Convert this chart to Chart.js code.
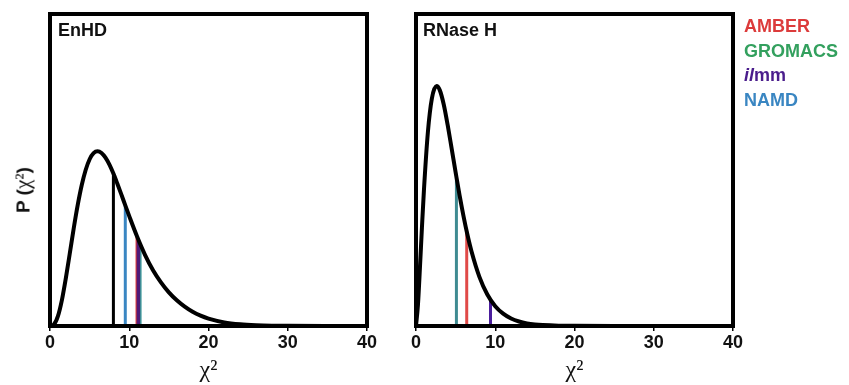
<!DOCTYPE html>
<html>
<head>
<meta charset="utf-8">
<script src="https://cdn.jsdelivr.net/npm/chart.js@4.4.1/dist/chart.umd.min.js"></script>
<style>
  body { margin: 0; background: #fff; width: 849px; height: 385px; position: relative; overflow: hidden; font-family: "Liberation Sans", Arial, sans-serif; }
  #enhdWrap { position: absolute; left: 0; top: 0; width: 380px; height: 385px; }
  #rnaseWrap { position: absolute; left: 380px; top: 0; width: 469px; height: 385px; }
  .panelLabel { position: absolute; font-weight: bold; font-size: 18px; color: #111; }
  .legend { position: absolute; left: 744px; top: 14px; font-weight: bold; font-size: 18px; line-height: 24.5px; }
  .ylab { position: absolute; left: 23px; top: 190px; transform: translate(-50%, -50%) rotate(-90deg); font-weight: bold; font-size: 19px; white-space: nowrap; color: #111; }
  .chi { font-family: "Liberation Serif", "Times New Roman", serif; font-weight: normal; font-size: 21px; }
</style>
</head>
<body>
<div id="enhdWrap"><canvas id="enhdChart"></canvas></div>
<div id="rnaseWrap"><canvas id="rnaseChart"></canvas></div>
<div class="panelLabel" style="left:58px; top:20px;">EnHD</div>
<div class="panelLabel" style="left:423px; top:20px;">RNase H</div>
<div class="ylab">P (<span class="chi">χ²</span>)</div>
<div class="legend">
  <div style="color:#dc3b3b;">AMBER</div>
  <div style="color:#33a05e;">GROMACS</div>
  <div style="color:#4a1d8c;"><i>il</i>mm</div>
  <div style="color:#3a86c2;">NAMD</div>
</div>
<script>
// Curve values
const enhdX = [0, 0.5, 1, 1.5, 2, 2.5, 3, 3.5, 4, 4.5, 5, 5.5, 6, 6.5, 7, 7.5, 8, 8.5, 9, 9.5, 10, 11, 12, 13, 14, 15, 16, 17, 18, 19, 20, 22, 24, 26, 28, 30, 35, 40];
const enhdP = [0, 0.001, 0.0063, 0.0166, 0.0307, 0.0466, 0.0628, 0.0776, 0.0902, 0.1000, 0.1069, 0.1108, 0.1120, 0.1109, 0.1079, 0.1034, 0.0977, 0.0912, 0.0844, 0.0773, 0.0704, 0.0572, 0.0455, 0.0358, 0.0280, 0.0216, 0.0165, 0.0124, 0.0091, 0.0066, 0.0047, 0.0023, 0.0011, 0.0005, 0.0002, 0.0001, 0, 0];

const rnaseX = [0, 0.25, 0.5, 0.75, 1, 1.5, 2, 2.6, 3, 3.5, 4, 4.5, 5, 5.5, 6, 6.5, 7, 8, 9, 10, 11, 12, 13, 14, 15, 16, 18, 20, 25, 30, 40];
const rnaseP = [0, 0.0139, 0.0377, 0.0632, 0.0870, 0.1243, 0.1458, 0.1538, 0.1512, 0.1420, 0.1287, 0.1137, 0.0985, 0.0837, 0.0703, 0.0583, 0.0479, 0.0315, 0.0202, 0.0127, 0.0079, 0.0048, 0.0029, 0.0017, 0.0010, 0.0006, 0.0002, 0.0001, 0, 0, 0];

// Vertical marker lines (chi^2 of each force field)
const enhdLineX = [8.0, 9.5, 10.95, 11.4, 11.15];
const enhdLineTop = [0.0977, 0.0773, 0.0573, 0.0518, 0.0547];
const enhdLineColor = ['#000000', '#3a86c2', '#dc3b3b', '#3e9a9a', '#4f1a78'];
const enhdLineWidth = [3, 3, 2.5, 2.5, 3.5];

const rnaseLineX = [5.1, 6.4, 9.4];
const rnaseLineTop = [0.0954, 0.0606, 0.0168];
const rnaseLineColor = ['#3f8b92', '#e04a48', '#4a1d9c'];
const rnaseLineWidth = [3, 3, 3];

const xTicks = [0, 10, 20, 30, 40];

// draws the closed frame around the plot area
const boxPlugin = {
    id: 'box',
    afterDatasetsDraw(chart) {
        const a = chart.chartArea;
        const ctx = chart.ctx;
        ctx.save();
        ctx.strokeStyle = '#000';
        ctx.lineWidth = 4;
        ctx.strokeRect(a.left, a.top, a.right - a.left, a.bottom - a.top);
        ctx.restore();
    }
};

function buildDatasets(xs, ps, lineX, lineTop, lineColor, lineWidth) {
    const sets = [{
        data: xs.map((x, i) => ({ x: x, y: ps[i] })),
        borderColor: '#000',
        borderWidth: 4,
        pointRadius: 0,
        cubicInterpolationMode: 'monotone',
        order: 0
    }];
    lineX.forEach((x, i) => {
        sets.push({
            data: [{ x: x, y: 0 }, { x: x, y: lineTop[i] }],
            borderColor: lineColor[i],
            borderWidth: lineWidth[i],
            pointRadius: 0,
            order: 10 - i
        });
    });
    return sets;
}

function buildOptions(yWidth, padRight) {
    return {
        responsive: false,
        animation: false,
        layout: { padding: { left: 0, right: padRight, top: 14, bottom: 0 } },
        plugins: { legend: { display: false }, tooltip: { enabled: false } },
        scales: {
            x: {
                type: 'linear',
                min: 0,
                max: 40,
                afterBuildTicks: (scale) => { scale.ticks = xTicks.map(v => ({ value: v })); },
                afterFit: (scale) => { scale.height = 59; },
                border: { display: false },
                grid: { drawOnChartArea: false, drawTicks: true, tickLength: 5, color: '#000', lineWidth: 1.5 },
                ticks: {
                    color: '#111',
                    padding: 1,
                    font: { family: '"Liberation Sans", Arial, sans-serif', size: 18, weight: 'bold' }
                },
                title: {
                    display: true,
                    text: 'χ²',
                    color: '#111',
                    padding: 0,
                    font: { family: '"Liberation Serif", "Times New Roman", serif', size: 24 }
                }
            },
            y: {
                min: 0,
                max: 0.2,
                afterFit: (scale) => { scale.width = yWidth; },
                border: { display: false },
                grid: { display: false },
                ticks: { display: false }
            }
        }
    };
}

function renderChart(id, w, h, datasets, options) {
    const canvas = document.getElementById(id);
    canvas.width = w;
    canvas.height = h;
    canvas.style.width = w + 'px';
    canvas.style.height = h + 'px';
    new Chart(canvas, { type: 'line', data: { datasets: datasets }, options: options, plugins: [boxPlugin] });
}

renderChart('enhdChart', 380, 385,
    buildDatasets(enhdX, enhdP, enhdLineX, enhdLineTop, enhdLineColor, enhdLineWidth),
    buildOptions(50, 13));
renderChart('rnaseChart', 469, 385,
    buildDatasets(rnaseX, rnaseP, rnaseLineX, rnaseLineTop, rnaseLineColor, rnaseLineWidth),
    buildOptions(36, 116));
</script>
</body>
</html>
